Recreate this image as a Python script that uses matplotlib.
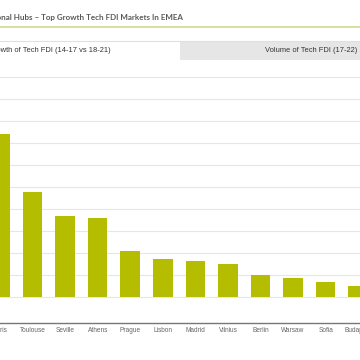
import numpy as np
import matplotlib
matplotlib.use("Agg")
import matplotlib.pyplot as plt

# growth of tech FDI (one gridline = 50)
cities = ["Paris", "Toulouse", "Seville", "Athens", "Prague", "Lisbon",
          "Madrid", "Vilnius", "Berlin", "Warsaw", "Sofia", "Budapest"]
growth = [371, 238, 185, 179, 104, 87, 83, 76, 51, 44, 35, 26]

title = "Regional Hubs \u2013 Top Growth Tech FDI Markets In EMEA"
tab_left = "Growth of Tech FDI (14-17 vs 18-21)"
tab_right = "Volume of Tech FDI (17-22)"

W, H = 360, 360
fig = plt.figure(figsize=(3.6, 3.6), dpi=100)
fig.patch.set_facecolor("white")

def fx(px):
    return px / W

def fy(py):
    return 1 - py / H

# header
fig.text(fx(183), fy(17.5), title, ha="right", va="center", fontsize=5.8,
         fontweight="bold", color="#5a5a5a", family="Lato")
fig.add_artist(plt.Line2D([0, 1], [fy(27), fy(27)], color="#cddb8f", lw=1.2))

# tabs
fig.add_artist(plt.Rectangle((fx(180), fy(59.7)), fx(180), fy(41.3) - fy(59.7),
                             facecolor="#e6e6e6", edgecolor="none"))
fig.add_artist(plt.Line2D([0, 1], [fy(41.3), fy(41.3)], color="#e0e0e0", lw=0.8))
fig.text(fx(111), fy(50), tab_left, ha="right", va="center", fontsize=5.4,
         color="#333333", family="Liberation Sans")
fig.text(fx(357), fy(50), tab_right, ha="right", va="center", fontsize=5.4,
         color="#333333", family="Liberation Sans")

# plot area
ax = fig.add_axes([0, fy(322.7), 1, (322.7 - 76.7) / H])
x = np.arange(len(cities))
ax.bar(x, growth, width=0.6, color="#b4bd00", zorder=3)

step_px = 22.0
ax.set_ylim(-50 * (322.7 - 297.3) / step_px, 500)
ax.set_xlim(7 / 33.2, 367 / 33.2)
ax.set_yticks(np.arange(0, 501, 50))
ax.yaxis.grid(True, color="#e6e6e6", lw=0.8, zorder=0)
ax.tick_params(axis="y", left=False, labelleft=False)
ax.set_xticks(x)
ax.set_xticklabels(cities, fontsize=4.7, color="#666666", family="Liberation Sans")
ax.tick_params(axis="x", length=0, pad=3)
for s in ["top", "left", "right"]:
    ax.spines[s].set_visible(False)
ax.spines["bottom"].set_color("#777777")
ax.spines["bottom"].set_linewidth(1.0)
ax.set_facecolor("none")

fig.savefig("out.png", dpi=100)
